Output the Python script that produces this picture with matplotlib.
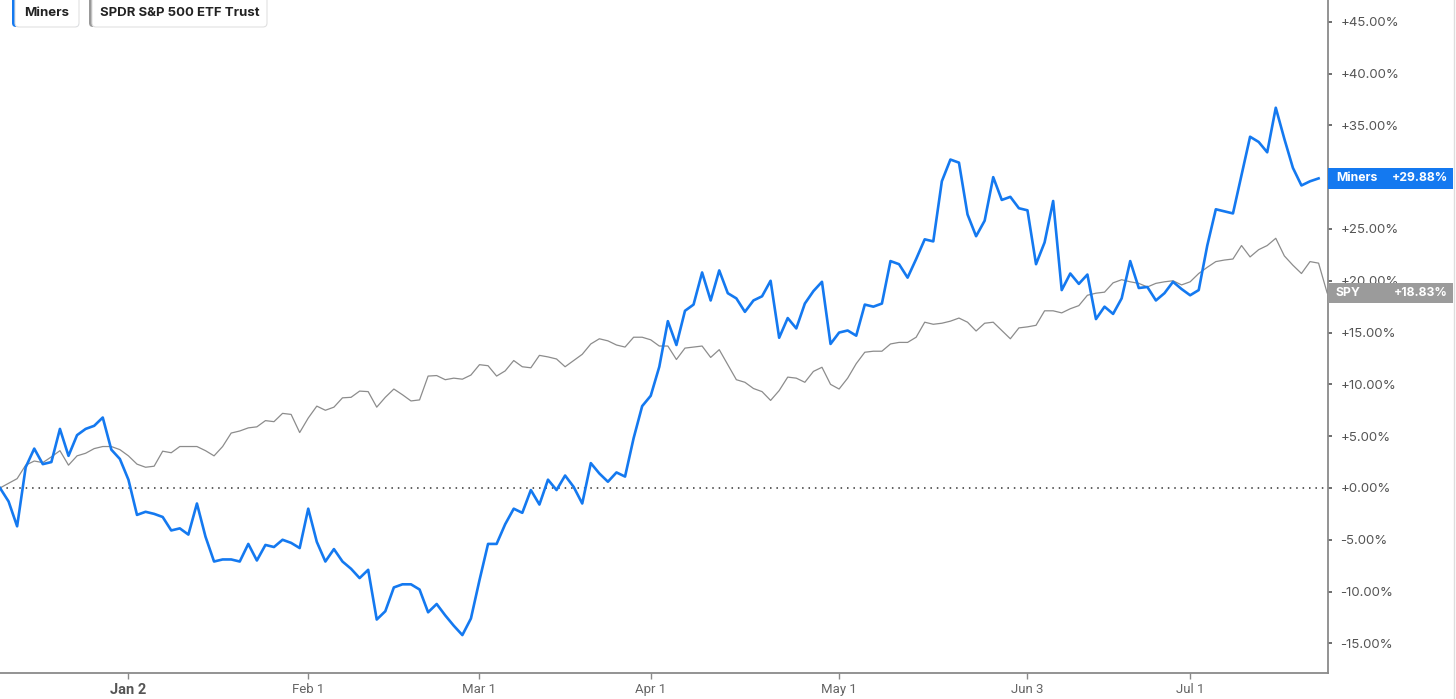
import matplotlib
matplotlib.use("Agg")
import matplotlib.pyplot as plt
from matplotlib.patches import FancyBboxPatch, Rectangle
from matplotlib.lines import Line2D
from matplotlib.transforms import IdentityTransform, blended_transform_factory
import numpy as np

# Trading-day index ticks (Dec 2023 - Jul 2024)
tick_index = [15, 36, 56, 76, 98, 120, 139]
tick_labels = ["Jan 2", "Feb 1", "Mar 1", "Apr 1", "May 1", "Jun 3", "Jul 1"]

# Cumulative % change, one value per trading day
miners = [
    0.0, -1.3, -3.7, 2.0, 3.8, 2.3, 2.5, 5.7, 3.1, 5.1,
    5.7, 6.0, 6.8, 3.7, 2.8, 0.8, -2.6, -2.3, -2.5, -2.8,
    -4.1, -3.9, -4.5, -1.5, -4.7, -7.1, -6.9, -6.9, -7.1, -5.4,
    -7.0, -5.5, -5.7, -5.0, -5.3, -5.8, -2.0, -5.2, -7.1, -5.9,
    -7.1, -7.8, -8.7, -7.9, -12.7, -11.9, -9.6, -9.3, -9.3, -9.8,
    -12.0, -11.2, -12.3, -13.3, -14.2, -12.6, -8.9, -5.4, -5.4, -3.5,
    -2.0, -2.4, -0.2, -1.6, 0.8, -0.2, 1.2, 0.1, -1.5, 2.4,
    1.4, 0.6, 1.5, 1.1, 4.8, 7.9, 8.9, 11.7, 16.1, 13.8,
    17.1, 17.7, 20.8, 18.1, 21.0, 18.8, 18.3, 17.0, 18.1, 18.5,
    20.0, 14.5, 16.4, 15.4, 17.8, 19.0, 19.9, 13.9, 15.0, 15.2,
    14.7, 17.7, 17.5, 17.8, 21.9, 21.6, 20.3, 22.1, 24.0, 23.8,
    29.6, 31.7, 31.4, 26.4, 24.3, 25.8, 30.0, 27.8, 28.1, 27.0,
    26.8, 21.6, 23.7, 27.7, 19.1, 20.7, 19.7, 20.6, 16.3, 17.5,
    16.8, 18.3, 21.9, 19.3, 19.4, 18.1, 18.8, 19.9, 19.2, 18.6,
    19.1, 23.4, 26.9, 26.7, 26.5, 30.2, 33.9, 33.4, 32.4, 36.7,
    33.7, 30.9, 29.2, 29.6, 29.88,
]
spy = [
    0.0, 0.45, 0.9, 2.2, 2.6, 2.45, 3.0, 3.6, 2.2, 3.1,
    3.35, 3.8, 4.0, 4.0, 3.7, 3.1, 2.3, 2.0, 2.1, 3.55,
    3.4, 4.0, 4.0, 4.0, 3.6, 3.1, 4.0, 5.3, 5.5, 5.8,
    5.9, 6.5, 6.4, 7.2, 7.1, 5.35, 6.75, 7.9, 7.5, 7.8,
    8.7, 8.75, 9.35, 9.3, 7.8, 8.75, 9.55, 9.0, 8.4, 8.5,
    10.8, 10.85, 10.45, 10.6, 10.5, 10.9, 11.9, 11.8, 10.8, 11.3,
    12.3, 11.7, 11.6, 12.8, 12.65, 12.45, 11.7, 12.3, 12.9, 13.9,
    14.4, 14.2, 13.8, 13.6, 14.55, 14.55, 14.3, 13.7, 13.7, 12.4,
    13.5, 13.6, 13.7, 12.6, 13.35, 11.9, 10.45, 10.2, 9.6, 9.3,
    8.45, 9.4, 10.7, 10.6, 10.2, 11.25, 11.65, 10.0, 9.55, 10.6,
    12.0, 13.1, 13.2, 13.2, 13.9, 14.05, 14.05, 14.55, 16.0, 15.8,
    15.9, 16.1, 16.4, 16.0, 15.15, 15.9, 16.0, 15.2, 14.4, 15.45,
    15.55, 15.7, 17.1, 17.1, 16.9, 17.3, 17.6, 18.6, 18.8, 18.9,
    19.8, 20.1, 19.9, 19.75, 19.4, 19.75, 19.9, 20.0, 19.6, 19.9,
    20.7, 21.3, 21.85, 22.0, 22.1, 23.4, 22.3, 23.0, 23.4, 24.1,
    22.4, 21.5, 20.7, 21.85, 21.7, 18.83,
]
# +30% is hidden under the Miners tag in the original, so it gets no label
y_ticks = [-15, -10, -5, 0, 5, 10, 15, 20, 25, 35, 40, 45]

blue = "#1479F0"
grey = "#8c8c8c"

W, H = 1456, 699
fig = plt.figure(figsize=(W / 100, H / 100), dpi=100)
ax = fig.add_axes([0, 26 / H, 1328 / W, 673 / H])

ax.plot(np.arange(len(spy)), spy, color=grey, lw=0.9, zorder=3)
ax.plot(np.arange(len(miners)), miners, color=blue, lw=1.9, zorder=4)
ax.axhline(0, color="#333333", lw=1.1, linestyle=(0, (1, 3.2)), zorder=2)

ax.set_xlim(0, 155.1)
ax.set_ylim(-17.86, 47.1)

for s in ["top", "left"]:
    ax.spines[s].set_visible(False)
for s in ["right", "bottom"]:
    ax.spines[s].set_color("#8a8a8a")
    ax.spines[s].set_linewidth(1.3)

ax.yaxis.tick_right()
ax.set_yticks(y_ticks, [f"{v:+.2f}%" for v in y_ticks])
ax.tick_params(axis="y", length=3, width=1.2, color="#555555", pad=6,
               labelsize=9.5, labelcolor="#555555")
for lbl in ax.get_yticklabels():
    lbl.set_family("Inter")

ax.set_xticks(tick_index, tick_labels)
ax.tick_params(axis="x", length=4, width=1, color="#8a8a8a", pad=3,
               labelsize=9.5, labelcolor="#666666")
for lbl in ax.get_xticklabels():
    lbl.set_family("Roboto")
jan = ax.get_xticklabels()[0]
jan.set_fontweight("bold")
jan.set_fontsize(10.5)
jan.set_color("#555555")

# last-value tags on the right
tr = blended_transform_factory(ax.transAxes, ax.transData)
box_right = 1453 / 1328
for name, val, col in [("Miners", miners[-1], blue), ("SPY", spy[-1], "#9b9b9b")]:
    ax.add_patch(Rectangle((1.0, val - 1.0), box_right - 1.0, 2.0, transform=tr,
                           facecolor=col, edgecolor="none", clip_on=False, zorder=6))
    ax.text(1336 / 1328, val, name, transform=tr, ha="left", va="center",
            color="white", fontweight="bold", fontsize=8.8, family="Inter", zorder=7)
    ax.text(1448 / 1328, val, f"{val:+.2f}%", transform=tr, ha="right", va="center",
            color="white", fontweight="bold", fontsize=8.8, family="Inter", zorder=7)

# legend chips at top-left (pixel positions)
px = IdentityTransform()
for x0, x1, label, col in [(12, 79, "Miners", blue), (89, 267, "SPDR S&P 500 ETF Trust", "#999999")]:
    fig.add_artist(FancyBboxPatch((x0, H - 27), x1 - x0, 34,
                                  boxstyle="round,pad=0,rounding_size=4",
                                  facecolor=col, edgecolor="none", transform=px))
    fig.add_artist(FancyBboxPatch((x0 + 3, H - 27), x1 - x0 - 3, 34,
                                  boxstyle="round,pad=0,rounding_size=4",
                                  facecolor="white", edgecolor="#e2e2e2", lw=0.8,
                                  transform=px))
    fig.text((x0 + 3 + x1) / 2, H - 13, label, transform=px, ha="center", va="center",
             fontsize=9.5, fontweight="bold", color="#222222", family="Inter")

fig.add_artist(Line2D([1453.5, 1453.5], [0, H], transform=px, color="#dddddd", lw=1))

fig.savefig("out.png", dpi=100)
